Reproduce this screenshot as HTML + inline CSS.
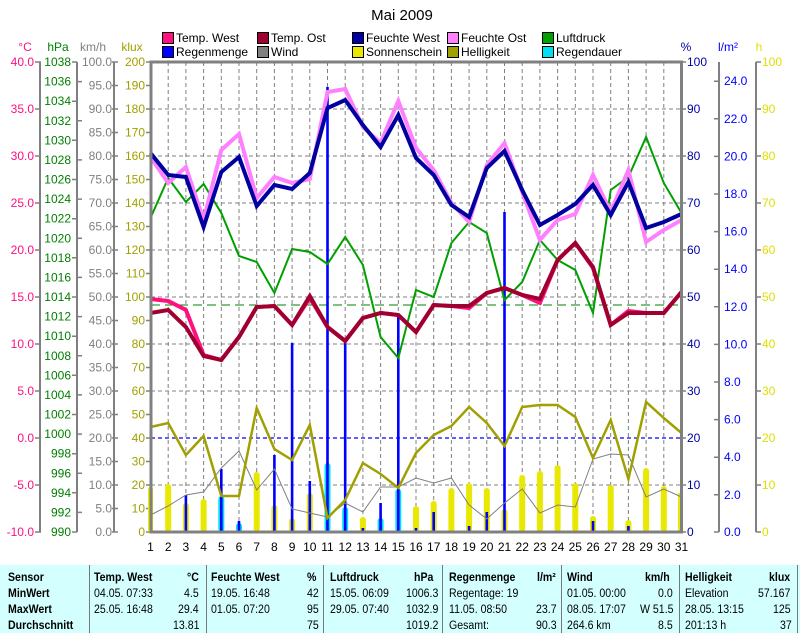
<!DOCTYPE html>
<html><head><meta charset="utf-8"><style>
body{margin:0;background:#fff;width:800px;height:633px;overflow:hidden;font-family:"Liberation Sans",sans-serif}
svg text{font-family:"Liberation Sans",sans-serif;font-size:12px}
#tbl{position:absolute;left:0;top:565px;width:800px;height:68px;background:#d4ffff;font-family:"Liberation Sans",sans-serif;font-size:11.5px}
#tbl div{position:absolute;white-space:nowrap;transform-origin:0 0;transform:scaleX(0.92)}
.b{font-weight:bold}
#tbl .sep{width:1px;height:68px;top:0;background:#777;transform:none}
</style></head><body>
<svg width="800" height="565" style="position:absolute;left:0;top:0">
<text x="402" y="20" font-size="15" text-anchor="middle" style="font-size:15px">Mai 2009</text>
<g stroke="#000" stroke-width="1">
<rect x="162.5" y="32.5" width="11" height="11" fill="#ff1080"/>
<rect x="257.5" y="32.5" width="11" height="11" fill="#a00030"/>
<rect x="352.5" y="32.5" width="11" height="11" fill="#0000a0"/>
<rect x="447.5" y="32.5" width="11" height="11" fill="#ff80ff"/>
<rect x="542.5" y="32.5" width="11" height="11" fill="#00a000"/>
<rect x="162.5" y="46.5" width="11" height="11" fill="#0000ff"/>
<rect x="257.5" y="46.5" width="11" height="11" fill="#808080"/>
<rect x="352.5" y="46.5" width="11" height="11" fill="#e8e800"/>
<rect x="447.5" y="46.5" width="11" height="11" fill="#a0a000"/>
<rect x="542.5" y="46.5" width="11" height="11" fill="#00e0f0"/>
</g>
<g font-size="12">
<text x="176" y="42">Temp. West</text><text x="271" y="42">Temp. Ost</text><text x="366" y="42">Feuchte West</text><text x="461" y="42">Feuchte Ost</text><text x="556" y="42">Luftdruck</text>
<text x="176" y="56">Regenmenge</text><text x="271" y="56">Wind</text><text x="366" y="56">Sonnenschein</text><text x="461" y="56">Helligkeit</text><text x="556" y="56">Regendauer</text>
</g>
<text x="25" y="51" fill="#ff1080" text-anchor="middle">°C</text>
<text x="58" y="51" fill="#008000" text-anchor="middle">hPa</text>
<text x="93" y="51" fill="#808080" text-anchor="middle">km/h</text>
<text x="132" y="51" fill="#a0a000" text-anchor="middle">klux</text>
<text x="686" y="51" fill="#0000a0" text-anchor="middle">%</text>
<text x="728" y="51" fill="#0000ff" text-anchor="middle">l/m²</text>
<text x="759" y="51" fill="#e0e000" text-anchor="middle">h</text>
<g stroke="#808080" stroke-width="2" fill="none">
<line x1="40" y1="62" x2="40" y2="532"/><line x1="77" y1="62" x2="77" y2="532"/><line x1="114" y1="62" x2="114" y2="532"/>
<line x1="719" y1="62" x2="719" y2="532"/><line x1="756" y1="62" x2="756" y2="532"/>
</g>
<g stroke="#808080" stroke-width="1.5">
<path d="M35 62h6M35 109h6M35 156h6M35 203h6M35 250h6M35 297h6M35 344h6M35 391h6M35 438h6M35 485h6M35 532h6"/>
<path d="M72 62h5M72 101.2h5M72 140.3h5M72 179.5h5M72 218.7h5M72 257.8h5M72 297h5M72 336.2h5M72 375.3h5M72 414.5h5M72 453.7h5M72 492.8h5M72 532h5"/>
<path d="M77 81.6h5M77 120.8h5M77 159.9h5M77 199.1h5M77 238.3h5M77 277.4h5M77 316.6h5M77 355.8h5M77 394.9h5M77 434.1h5M77 473.3h5M77 512.4h5"/>
<path d="M112 62h6M112 85.5h6M112 109h6M112 132.5h6M112 156h6M112 179.5h6M112 203h6M112 226.5h6M112 250h6M112 273.5h6M112 297h6M112 320.5h6M112 344h6M112 367.5h6M112 391h6M112 414.5h6M112 438h6M112 461.5h6M112 485h6M112 508.5h6M112 532h6"/>
<path d="M146 62h5M146 85.5h5M146 109h5M146 132.5h5M146 156h5M146 179.5h5M146 203h5M146 226.5h5M146 250h5M146 273.5h5M146 297h5M146 320.5h5M146 344h5M146 367.5h5M146 391h5M146 414.5h5M146 438h5M146 461.5h5M146 485h5M146 508.5h5M146 532h5"/>
<path d="M681 62h5M681 109h5M681 156h5M681 203h5M681 250h5M681 297h5M681 344h5M681 391h5M681 438h5M681 485h5M681 532h5"/>
<path d="M714 81.2h5M714 118.8h5M714 156.4h5M714 194h5M714 231.6h5M714 269.2h5M714 306.8h5M714 344.4h5M714 382h5M714 419.6h5M714 457.2h5M714 494.8h5M714 532h5"/>
<path d="M756 62h5M756 109h5M756 156h5M756 203h5M756 250h5M756 297h5M756 344h5M756 391h5M756 438h5M756 485h5M756 532h5"/>
</g>
<g dominant-baseline="central">
<g fill="#ff1080" text-anchor="end">
<text x="34" y="62">40.0</text><text x="34" y="109">35.0</text><text x="34" y="156">30.0</text><text x="34" y="203">25.0</text><text x="34" y="250">20.0</text><text x="34" y="297">15.0</text><text x="34" y="344">10.0</text><text x="34" y="391">5.0</text><text x="34" y="438">0.0</text><text x="34" y="485">-5.0</text><text x="34" y="532">-10.0</text>
</g>
<g fill="#008000" text-anchor="end">
<text x="71" y="62">1038</text><text x="71" y="81.6">1036</text><text x="71" y="101.2">1034</text><text x="71" y="120.8">1032</text><text x="71" y="140.3">1030</text><text x="71" y="159.9">1028</text><text x="71" y="179.5">1026</text><text x="71" y="199.1">1024</text><text x="71" y="218.7">1022</text><text x="71" y="238.3">1020</text><text x="71" y="257.8">1018</text><text x="71" y="277.4">1016</text><text x="71" y="297">1014</text><text x="71" y="316.6">1012</text><text x="71" y="336.2">1010</text><text x="71" y="355.8">1008</text><text x="71" y="375.3">1006</text><text x="71" y="394.9">1004</text><text x="71" y="414.5">1002</text><text x="71" y="434.1">1000</text><text x="71" y="453.7">998</text><text x="71" y="473.3">996</text><text x="71" y="492.8">994</text><text x="71" y="512.4">992</text><text x="71" y="532">990</text>
</g>
<g fill="#808080" text-anchor="end">
<text x="112" y="62">100.0</text><text x="112" y="85.5">95.0</text><text x="112" y="109">90.0</text><text x="112" y="132.5">85.0</text><text x="112" y="156">80.0</text><text x="112" y="179.5">75.0</text><text x="112" y="203">70.0</text><text x="112" y="226.5">65.0</text><text x="112" y="250">60.0</text><text x="112" y="273.5">55.0</text><text x="112" y="297">50.0</text><text x="112" y="320.5">45.0</text><text x="112" y="344">40.0</text><text x="112" y="367.5">35.0</text><text x="112" y="391">30.0</text><text x="112" y="414.5">25.0</text><text x="112" y="438">20.0</text><text x="112" y="461.5">15.0</text><text x="112" y="485">10.0</text><text x="112" y="508.5">5.0</text><text x="112" y="532">0.0</text>
</g>
<g fill="#a0a000" text-anchor="end">
<text x="145" y="62">200</text><text x="145" y="85.5">190</text><text x="145" y="109">180</text><text x="145" y="132.5">170</text><text x="145" y="156">160</text><text x="145" y="179.5">150</text><text x="145" y="203">140</text><text x="145" y="226.5">130</text><text x="145" y="250">120</text><text x="145" y="273.5">110</text><text x="145" y="297">100</text><text x="145" y="320.5">90</text><text x="145" y="344">80</text><text x="145" y="367.5">70</text><text x="145" y="391">60</text><text x="145" y="414.5">50</text><text x="145" y="438">40</text><text x="145" y="461.5">30</text><text x="145" y="485">20</text><text x="145" y="508.5">10</text><text x="145" y="532">0</text>
</g>
<g fill="#0000a0">
<text x="687" y="62">100</text><text x="687" y="109">90</text><text x="687" y="156">80</text><text x="687" y="203">70</text><text x="687" y="250">60</text><text x="687" y="297">50</text><text x="687" y="344">40</text><text x="687" y="391">30</text><text x="687" y="438">20</text><text x="687" y="485">10</text><text x="687" y="532">0</text>
</g>
<g fill="#0000ff">
<text x="724" y="81.2">24.0</text><text x="724" y="118.8">22.0</text><text x="724" y="156.4">20.0</text><text x="724" y="194">18.0</text><text x="724" y="231.6">16.0</text><text x="724" y="269.2">14.0</text><text x="724" y="306.8">12.0</text><text x="724" y="344.4">10.0</text><text x="724" y="382">8.0</text><text x="724" y="419.6">6.0</text><text x="724" y="457.2">4.0</text><text x="724" y="494.8">2.0</text><text x="724" y="532">0.0</text>
</g>
<g fill="#e0e000">
<text x="762" y="62">100</text><text x="762" y="109">90</text><text x="762" y="156">80</text><text x="762" y="203">70</text><text x="762" y="250">60</text><text x="762" y="297">50</text><text x="762" y="344">40</text><text x="762" y="391">30</text><text x="762" y="438">20</text><text x="762" y="485">10</text><text x="762" y="532">0</text>
</g>
</g>
<g stroke="#808080" stroke-width="1" stroke-dasharray="4,3">
<path d="M151 109H681M151 156H681M151 203H681M151 250H681M151 297H681M151 344H681M151 391H681M151 438H681M151 485H681"/>
<path d="M168.2 62V532M185.9 62V532M203.6 62V532M221.3 62V532M239 62V532M256.7 62V532M274.4 62V532M292.1 62V532M309.8 62V532M327.5 62V532M345.2 62V532M362.9 62V532M380.6 62V532M398.3 62V532M416 62V532M433.7 62V532M451.4 62V532M469.1 62V532M486.8 62V532M504.5 62V532M522.2 62V532M539.9 62V532M557.6 62V532M575.3 62V532M593 62V532M610.7 62V532M628.4 62V532M646.1 62V532M663.8 62V532"/>
</g>
<line x1="151" y1="305" x2="681" y2="305" stroke="#008000" stroke-dasharray="9,5"/>
<line x1="151" y1="438" x2="681" y2="438" stroke="#0000ff" stroke-width="1.3" stroke-dasharray="4,3"/>
<g fill="#e8e800">
<rect x="148" y="487" width="5" height="45" rx="2"/><rect x="165.2" y="484" width="6" height="48" rx="3"/><rect x="182.9" y="503" width="6" height="29" rx="3"/><rect x="200.6" y="499" width="6" height="33" rx="3"/><rect x="253.7" y="472" width="6" height="60" rx="3"/><rect x="271.4" y="505" width="6" height="27" rx="3"/><rect x="289.1" y="518" width="6" height="14" rx="3"/><rect x="306.8" y="493" width="6" height="39" rx="3"/><rect x="359.9" y="517" width="6" height="15" rx="3"/><rect x="377.6" y="525" width="6" height="7" rx="3"/><rect x="395.3" y="527" width="6" height="5" rx="3"/><rect x="413" y="506" width="6" height="26" rx="3"/><rect x="430.7" y="501" width="6" height="31" rx="3"/><rect x="448.4" y="488" width="6" height="44" rx="3"/><rect x="466.1" y="483" width="6" height="49" rx="3"/><rect x="483.8" y="488" width="6" height="44" rx="3"/><rect x="501.5" y="509" width="6" height="23" rx="3"/><rect x="519.2" y="475" width="6" height="57" rx="3"/><rect x="536.9" y="471" width="6" height="61" rx="3"/><rect x="554.6" y="465" width="6" height="67" rx="3"/><rect x="572.3" y="483" width="6" height="49" rx="3"/><rect x="590" y="516" width="6" height="16" rx="3"/><rect x="607.7" y="485" width="6" height="47" rx="3"/><rect x="625.4" y="520" width="6" height="12" rx="3"/><rect x="643.1" y="468" width="6" height="64" rx="3"/><rect x="660.8" y="486" width="6" height="46" rx="3"/><rect x="678" y="493" width="4" height="39"/>
</g>
<g fill="#00e0f0">
<rect x="218.3" y="496" width="6" height="36" rx="3"/><rect x="236" y="523" width="6" height="9" rx="3"/><rect x="324.5" y="463" width="6" height="69" rx="3"/><rect x="342.2" y="507" width="6" height="25" rx="3"/><rect x="377.6" y="518" width="6" height="14" rx="3"/><rect x="395.3" y="489" width="6" height="43" rx="3"/>
</g>
<g fill="#0000ff">
<rect x="184.6" y="495" width="2.6" height="37"/><rect x="220" y="469" width="2.6" height="63"/><rect x="237.7" y="521" width="2.6" height="11"/><rect x="273.1" y="455" width="2.6" height="77"/><rect x="290.8" y="343" width="2.6" height="189"/><rect x="308.5" y="481" width="2.6" height="51"/><rect x="326.2" y="87" width="2.6" height="445"/><rect x="343.9" y="342" width="2.6" height="190"/><rect x="361.6" y="528" width="2.6" height="4"/><rect x="379.3" y="503" width="2.6" height="29"/><rect x="397" y="317" width="2.6" height="215"/><rect x="414.7" y="528" width="2.6" height="4"/><rect x="432.4" y="512" width="2.6" height="20"/><rect x="467.8" y="526" width="2.6" height="6"/><rect x="485.5" y="512" width="2.6" height="20"/><rect x="503.2" y="212" width="2.6" height="320"/><rect x="591.7" y="521" width="2.6" height="11"/><rect x="627.1" y="526" width="2.6" height="6"/>
</g>
<g fill="none" stroke-linejoin="miter">
<polyline stroke="#808080" stroke-width="1" points="150.5,515 168.2,506 185.9,495 203.6,492 221.3,468 239,451 256.7,490 274.4,469 292.1,509 309.8,513 327.5,517 345.2,503 362.9,512 380.6,487 398.3,487 416,478 433.7,483 451.4,478 469.1,505 486.8,519 504.5,503 522.2,489 539.9,513 557.6,505 575.3,507 593,459 610.7,454 628.4,455 646.1,497 663.8,489 681.5,497"/>
<polyline stroke="#a0a000" stroke-width="2.5" points="150.5,427 168.2,423 185.9,455 203.6,436 221.3,496 239,496 256.7,408 274.4,449 292.1,460 309.8,425 327.5,518 345.2,500 362.9,463 380.6,474 398.3,488 416,453 433.7,435 451.4,426 469.1,407 486.8,423 504.5,446 522.2,407 539.9,405 557.6,405 575.3,417 593,458 610.7,420 628.4,479 646.1,402 663.8,418 681.5,433"/>
<polyline stroke="#00a000" stroke-width="2" points="150.5,218 168.2,178 185.9,202 203.6,184 221.3,213 239,256 256.7,262 274.4,293 292.1,249 309.8,252 327.5,264 345.2,237 362.9,265 380.6,337 398.3,358 416,290 433.7,297 451.4,243 469.1,222 486.8,233 504.5,300 522.2,282 539.9,240 557.6,260 575.3,270 593,313 610.7,190 628.4,177 646.1,137 663.8,183 681.5,213"/>
<polyline stroke="#ff1080" stroke-width="4" points="150.5,299 168.2,301 185.9,310 203.6,355 221.3,360 239,337 256.7,307 274.4,306 292.1,325 309.8,298 327.5,327 345.2,341 362.9,318 380.6,313 398.3,315 416,332 433.7,305 451.4,306 469.1,308 486.8,293 504.5,288 522.2,295 539.9,303 557.6,260 575.3,243 593,268 610.7,325 628.4,311 646.1,313 663.8,313 681.5,292"/>
<polyline stroke="#a00030" stroke-width="4" points="150.5,313 168.2,310 185.9,327 203.6,356 221.3,360 239,337 256.7,307 274.4,306 292.1,325 309.8,296 327.5,327 345.2,341 362.9,318 380.6,313 398.3,315 416,332 433.7,305 451.4,306 469.1,306 486.8,293 504.5,288 522.2,295 539.9,299 557.6,260 575.3,243 593,267 610.7,325 628.4,313 646.1,313 663.8,313 681.5,292"/>
<polyline stroke="#ff80ff" stroke-width="4" points="150.5,157 168.2,183 185.9,167 203.6,220 221.3,150 239,134 256.7,198 274.4,177 292.1,183 309.8,179 327.5,92 345.2,89 362.9,127 380.6,143 398.3,101 416,148 433.7,170 451.4,203 469.1,222 486.8,165 504.5,143 522.2,192 539.9,240 557.6,220 575.3,214 593,175 610.7,212 628.4,170 646.1,242 663.8,230 681.5,220"/>
<polyline stroke="#0000a0" stroke-width="4" points="150.5,153 168.2,175 185.9,177 203.6,227 221.3,172 239,157 256.7,206 274.4,185 292.1,189 309.8,173 327.5,108 345.2,100 362.9,125 380.6,147 398.3,115 416,158 433.7,175 451.4,205 469.1,217 486.8,168 504.5,151 522.2,190 539.9,225 557.6,215 575.3,204 593,185 610.7,215 628.4,182 646.1,228 663.8,222 681.5,214"/>
</g>
<path d="M151 532V62H681.5V532" fill="none" stroke="#808080" stroke-width="3"/>
<line x1="149.5" y1="532" x2="683" y2="532" stroke="#808080" stroke-width="3"/>
<g font-size="13" text-anchor="middle" style="font-size:13px">
<text x="150.5" y="551">1</text><text x="168.2" y="551">2</text><text x="185.9" y="551">3</text><text x="203.6" y="551">4</text><text x="221.3" y="551">5</text><text x="239" y="551">6</text><text x="256.7" y="551">7</text><text x="274.4" y="551">8</text><text x="292.1" y="551">9</text><text x="309.8" y="551">10</text><text x="327.5" y="551">11</text><text x="345.2" y="551">12</text><text x="362.9" y="551">13</text><text x="380.6" y="551">14</text><text x="398.3" y="551">15</text><text x="416" y="551">16</text><text x="433.7" y="551">17</text><text x="451.4" y="551">18</text><text x="469.1" y="551">19</text><text x="486.8" y="551">20</text><text x="504.5" y="551">21</text><text x="522.2" y="551">22</text><text x="539.9" y="551">23</text><text x="557.6" y="551">24</text><text x="575.3" y="551">25</text><text x="593" y="551">26</text><text x="610.7" y="551">27</text><text x="628.4" y="551">28</text><text x="646.1" y="551">29</text><text x="663.8" y="551">30</text><text x="681.5" y="551">31</text>
</g>
</svg>
<div id="tbl">
<div class="sep" style="left:89px"></div><div class="sep" style="left:206px"></div><div class="sep" style="left:323px"></div><div class="sep" style="left:442px"></div><div class="sep" style="left:561px"></div><div class="sep" style="left:679px"></div><div class="sep" style="left:797px"></div>
<div class="b" style="left:8px;top:7px">Sensor</div><div class="b" style="left:8px;top:23px">MinWert</div><div class="b" style="left:8px;top:39px">MaxWert</div><div class="b" style="left:8px;top:55px">Durchschnitt</div>

<div class="b" style="left:94px;top:7px">Temp. West</div><div class="b" style="left:187px;top:7px">°C</div>
<div style="left:94px;top:23px">04.05.  07:33</div><div style="left:184px;top:23px">4.5</div>
<div style="left:94px;top:39px">25.05.  16:48</div><div style="left:178px;top:39px">29.4</div>
<div style="left:173px;top:55px">13.81</div>

<div class="b" style="left:211px;top:7px">Feuchte West</div><div class="b" style="left:307px;top:7px">%</div>
<div style="left:211px;top:23px">19.05.  16:48</div><div style="left:307px;top:23px">42</div>
<div style="left:211px;top:39px">01.05.  07:20</div><div style="left:307px;top:39px">95</div>
<div style="left:307px;top:55px">75</div>

<div class="b" style="left:330px;top:7px">Luftdruck</div><div class="b" style="left:414px;top:7px">hPa</div>
<div style="left:330px;top:23px">15.05. 06:09</div><div style="left:406px;top:23px">1006.3</div>
<div style="left:330px;top:39px">29.05. 07:40</div><div style="left:406px;top:39px">1032.9</div>
<div style="left:406px;top:55px">1019.2</div>

<div class="b" style="left:449px;top:7px">Regenmenge</div><div class="b" style="left:537px;top:7px">l/m²</div>
<div style="left:449px;top:23px">Regentage: 19</div>
<div style="left:449px;top:39px">11.05.  08:50</div><div style="left:536px;top:39px">23.7</div>
<div style="left:449px;top:55px">Gesamt:</div><div style="left:536px;top:55px">90.3</div>

<div class="b" style="left:567px;top:7px">Wind</div><div class="b" style="left:645px;top:7px">km/h</div>
<div style="left:567px;top:23px">01.05.  00:00</div><div style="left:658px;top:23px">0.0</div>
<div style="left:567px;top:39px">08.05.  17:07</div><div style="left:640px;top:39px">W 51.5</div>
<div style="left:567px;top:55px">264.6 km</div><div style="left:658px;top:55px">8.5</div>

<div class="b" style="left:685px;top:7px">Helligkeit</div><div class="b" style="left:769px;top:7px">klux</div>
<div style="left:685px;top:23px">Elevation</div><div style="left:758px;top:23px">57.167</div>
<div style="left:685px;top:39px">28.05.  13:15</div><div style="left:773px;top:39px">125</div>
<div style="left:685px;top:55px">201:13 h</div><div style="left:780px;top:55px">37</div>
</div>
</body></html>
